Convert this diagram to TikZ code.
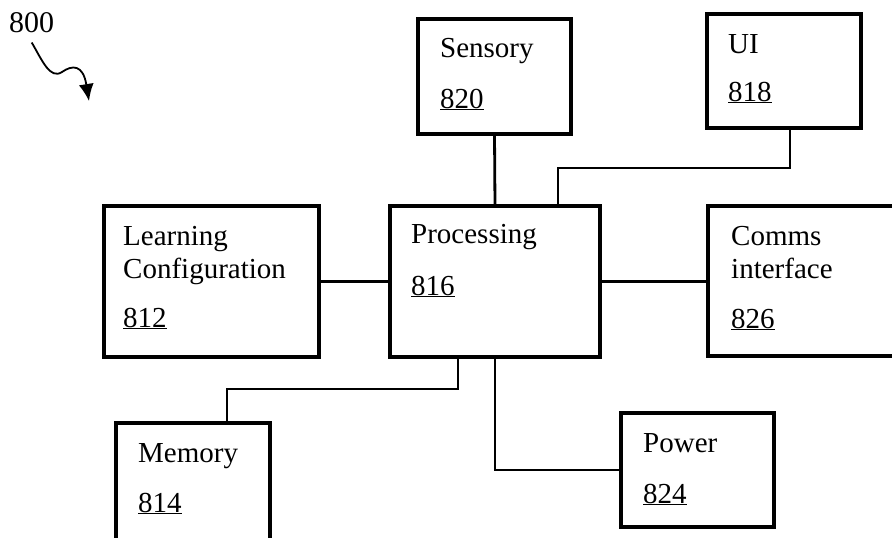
\documentclass[tikz,border=0pt]{standalone}
\usepackage{fontspec}
\setmainfont{Liberation Serif}
\usetikzlibrary{arrows.meta}
\begin{document}
\begin{tikzpicture}[x=1pt,y=-1pt,
  box/.style={draw,line width=4.2pt,rectangle,inner sep=0pt,outer sep=0pt},
  conn/.style={line width=2.8pt},
  lbl/.style={anchor=base west,inner sep=0pt,font=\fontsize{29}{34.8}\selectfont}]
\useasboundingbox (0,0) rectangle (892,538);
\clip (0,0) rectangle (892,538);
% boxes
\node[box,minimum width=153pt,minimum height=115pt] (sens) at (494.5,76.5) {};
\node[box,minimum width=154pt,minimum height=114pt] (ui) at (784,71) {};
\node[box,minimum width=215pt,minimum height=151pt] (learn) at (211.5,281.5) {};
\node[box,minimum width=210pt,minimum height=151pt] (proc) at (495,281.5) {};
\node[box,minimum width=202pt,minimum height=150pt] (comms) at (809,281) {};
\node[box,minimum width=154pt,minimum height=137pt] (mem) at (193,491.5) {};
\node[box,minimum width=153pt,minimum height=114pt] (power) at (697.5,470) {};
% texts
\node[lbl] (tsens) at (440,57) {Sensory};
\node[lbl] (nsens) at (440,108) {\underline{820}};
\node[lbl] (tui) at (728,53) {UI};
\node[lbl] (nui) at (728,101) {\underline{818}};
\node[lbl] (tlearn1) at (123,245) {Learning};
\node[lbl] (tlearn2) at (123,278) {Configuration};
\node[lbl] (nlearn) at (123,327) {\underline{812}};
\node[lbl] (tproc) at (411,243) {Processing};
\node[lbl] (nproc) at (411,295) {\underline{816}};
\node[lbl] (tcomms1) at (731,245) {Comms};
\node[lbl] (tcomms2) at (731,278) {interface};
\node[lbl] (ncomms) at (731,328) {\underline{826}};
\node[lbl] (tmem) at (138,462) {Memory};
\node[lbl] (nmem) at (138,512) {\underline{814}};
\node[lbl] (tpower) at (643,452) {Power};
\node[lbl] (npower) at (643,503) {\underline{824}};
% figure label
\node[anchor=base west,inner sep=0pt,font=\fontsize{30}{36}\selectfont] (fig) at (9,32) {800};
\coordinate (figtip) at (89,101);
\draw[line width=1.8pt,-{Latex[length=17pt,width=15pt]}]
  ([yshift=-10pt]fig.south) .. controls (42,60) and (50,80) .. (62,72)
  .. controls (72,65) and (83,64) .. (figtip);
% connectors
\coordinate (uibend) at (650,168);
\coordinate (membend) at (300,389);
\draw[conn] (sens.south) -- (proc.north);
\draw[conn] ([xshift=6pt]ui.south) |- (uibend) -| ([xshift=63pt]proc.north);
\draw[conn] (learn.east) -- (proc.west);
\draw[conn] (proc.east) -- (proc.east -| comms.west);
\draw[conn] ([xshift=-37pt]proc.south) |- (membend) -| ([xshift=34pt]mem.north);
\draw[conn] (proc.south) |- (power.west);
\end{tikzpicture}
\end{document}
